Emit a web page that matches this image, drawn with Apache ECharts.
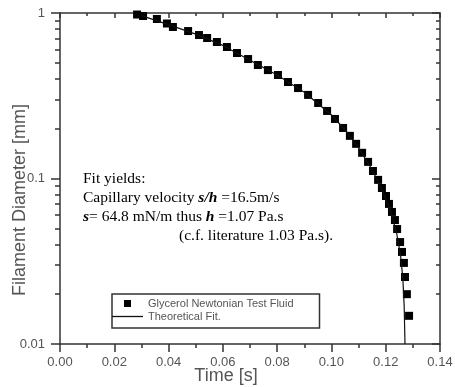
<!DOCTYPE html>
<html><head><meta charset="utf-8">
<script src="https://cdn.jsdelivr.net/npm/echarts@6/dist/echarts.min.js"></script>
<style>html,body{margin:0;padding:0;background:#fff}#c{width:455px;height:387px}</style>
</head><body><div id="c"></div>
<script>
// Measured data: Glycerol Newtonian test fluid
const timeS = [0.0284, 0.0306, 0.0357, 0.0394, 0.0416, 0.0472, 0.0512, 0.0542, 0.0578, 0.0615,
  0.0652, 0.0693, 0.0729, 0.0766, 0.0803, 0.0840, 0.0877, 0.0914, 0.0951, 0.0984,
  0.1013, 0.1043, 0.1068, 0.1091, 0.1113, 0.1135, 0.1153, 0.1172, 0.1186, 0.1201,
  0.1212, 0.1223, 0.1234, 0.1242, 0.1253, 0.1260, 0.1267, 0.1271, 0.1278, 0.1286];
const diameterMm = [0.979, 0.959, 0.920, 0.864, 0.823, 0.778, 0.736, 0.706, 0.668, 0.623,
  0.573, 0.527, 0.485, 0.452, 0.422, 0.383, 0.352, 0.320, 0.286, 0.256,
  0.229, 0.202, 0.181, 0.162, 0.143, 0.126, 0.111, 0.0981, 0.0876, 0.0784,
  0.0702, 0.0628, 0.0561, 0.0495, 0.0413, 0.0360, 0.0309, 0.0254, 0.0200, 0.0148];
// Theoretical fit
const fitTime = [0.030, 0.040, 0.050, 0.060, 0.070, 0.080, 0.090, 0.100, 0.105, 0.110,
  0.115, 0.119, 0.122, 0.124, 0.1255, 0.1263, 0.1268, 0.1271];
const fitDiameter = [0.965, 0.850, 0.745, 0.637, 0.518, 0.422, 0.332, 0.242, 0.197, 0.153,
  0.113, 0.083, 0.062, 0.047, 0.034, 0.025, 0.017, 0.010];
// Axes
const xMin = 0, xMax = 0.14, xStep = 0.02;
const yMajorTicks = [0.01, 0.1, 1];
const yMinorTicks = [0.02, 0.03, 0.04, 0.05, 0.06, 0.07, 0.08, 0.09, 0.2, 0.3, 0.4, 0.5, 0.6, 0.7, 0.8, 0.9];
const seriesNames = ['Glycerol Newtonian Test Fluid', 'Theoretical Fit.'];
const notes = ['Fit yields:', 'Capillary velocity ', 's/h', ' =16.5m/s', 's', '= 64.8 mN/m thus ', 'h', ' =1.07 Pa.s', '(c.f. literature 1.03 Pa.s).'];

const INK = '#333', LAB = '#555';
const SANS = '"Liberation Sans", Arial, sans-serif';
const SERIF = '"Liberation Serif", "Times New Roman", serif';
const lineS = {color: INK, width: 1.5};

const chart = echarts.init(document.getElementById('c'), null, {renderer: 'canvas'});
const serifR = {fontFamily: SERIF, fontSize: 15.5, fill: '#000'};
const serifB = {fontFamily: SERIF, fontSize: 15.5, fill: '#000', fontWeight: 'bold', fontStyle: 'italic'};

chart.setOption({
  animation: false,
  backgroundColor: '#fff',
  grid: {left: 60, right: 15, top: 13, bottom: 43, containLabel: false, outerBoundsMode: 'none'},
  legend: {
    orient: 'vertical', left: 112, top: 294,
    data: [
      {name: seriesNames[0], icon: 'path://M0,0H1V1H0Z'},
      {name: seriesNames[1], icon: 'path://M0,0H31V1.3H0Z'}
    ],
    borderColor: INK, borderWidth: 1.5,
    padding: [4, 26, 6, 0], itemGap: 2,
    itemWidth: 31, itemHeight: 7,
    symbolKeepAspect: true,
    selectedMode: false,
    textStyle: {fontFamily: SANS, fontSize: 11, color: LAB}
  },
  xAxis: [{
    type: 'value', position: 'bottom', min: xMin, max: xMax, interval: xStep,
    axisLine: {lineStyle: lineS},
    axisTick: {inside: false, length: 8, lineStyle: lineS},
    minorTick: {show: true, splitNumber: 2, length: 4, lineStyle: lineS},
    splitLine: {show: false}, minorSplitLine: {show: false},
    axisLabel: {margin: 12, color: LAB, fontFamily: SANS, fontSize: 13, formatter: v => v.toFixed(2)},
    name: 'Time [s]', nameLocation: 'middle', nameGap: 23, nameMoveOverlap: false,
    nameTextStyle: {fontFamily: SANS, fontSize: 18, color: LAB, padding: [0, 48, 0, 0]}
  }, {
    type: 'value', position: 'top', min: xMin, max: xMax, interval: xStep,
    axisLine: {lineStyle: lineS},
    axisTick: {inside: true, length: 5, lineStyle: lineS},
    minorTick: {show: true, splitNumber: 2, length: 3, lineStyle: lineS},
    splitLine: {show: false}, axisLabel: {show: false}
  }],
  yAxis: [{
    type: 'log', logBase: 10, position: 'left', min: 0.01, max: 1,
    axisLine: {lineStyle: lineS},
    axisTick: {inside: false, length: 9, lineStyle: lineS, customValues: yMajorTicks},
    axisLabel: {margin: 15, color: LAB, fontFamily: SANS, fontSize: 13, customValues: yMajorTicks,
      formatter: v => String(+Number(v).toPrecision(2))},
    splitLine: {show: false},
    name: 'Filament Diameter [mm]', nameLocation: 'middle', nameGap: 31, nameMoveOverlap: false,
    nameTextStyle: {fontFamily: SANS, fontSize: 18, color: LAB, padding: [0, 43, 0, 0]}
  }, {
    type: 'log', logBase: 10, position: 'left', min: 0.01, max: 1,
    axisLine: {show: false},
    axisTick: {inside: false, length: 5, lineStyle: lineS, customValues: yMinorTicks},
    axisLabel: {show: false}, splitLine: {show: false}
  }, {
    type: 'log', logBase: 10, position: 'right', min: 0.01, max: 1,
    axisLine: {lineStyle: lineS},
    axisTick: {inside: true, length: 8, lineStyle: lineS, customValues: yMajorTicks},
    axisLabel: {show: false}, splitLine: {show: false}
  }, {
    type: 'log', logBase: 10, position: 'right', min: 0.01, max: 1,
    axisLine: {show: false},
    axisTick: {inside: true, length: 4, lineStyle: lineS, customValues: yMinorTicks},
    axisLabel: {show: false}, splitLine: {show: false}
  }],
  series: [{
    name: seriesNames[1], type: 'line', xAxisIndex: 0, yAxisIndex: 0,
    data: fitTime.map((t, i) => [t, fitDiameter[i]]),
    showSymbol: false, symbol: 'none',
    lineStyle: {color: '#111', width: 1.2}, itemStyle: {color: '#111'}
  }, {
    name: seriesNames[0], type: 'scatter', xAxisIndex: 0, yAxisIndex: 0,
    data: timeS.map((t, i) => [t, diameterMm[i]]),
    symbol: 'rect', symbolSize: 8,
    itemStyle: {color: '#000', opacity: 1}
  }],
  graphic: [
    {type: 'text', x: 83, y: 179, style: {text: notes[0], font: '15.5px ' + SERIF, fill: '#000', verticalAlign: 'middle'}},
    {type: 'text', x: 83, y: 198, style: {
      text: '{r|' + notes[1] + '}{b|' + notes[2] + '}{r|' + notes[3] + '}',
      rich: {r: serifR, b: serifB}, verticalAlign: 'middle'}},
    {type: 'text', x: 83, y: 217, style: {
      text: '{b|' + notes[4] + '}{r|' + notes[5] + '}{b|' + notes[6] + '}{r|' + notes[7] + '}',
      rich: {r: serifR, b: serifB}, verticalAlign: 'middle'}},
    {type: 'text', x: 179, y: 236, style: {text: notes[8], font: '15.5px ' + SERIF, fill: '#000', verticalAlign: 'middle'}}
  ]
});
</script>
</body></html>
